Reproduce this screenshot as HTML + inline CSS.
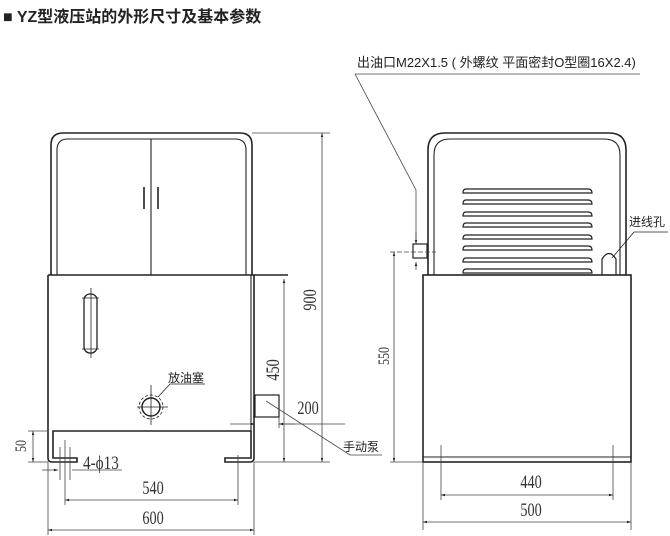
<!DOCTYPE html>
<html><head><meta charset="utf-8"><style>
html,body{margin:0;padding:0;background:#fff;width:670px;height:536px;overflow:hidden}
svg{display:block}
text{font-family:"Liberation Sans","Noto Sans CJK SC",sans-serif;fill:#222}
.n{font-family:"Liberation Serif","DejaVu Serif",serif;font-size:19px;fill:#333}
</style></head><body>
<svg width="670" height="536" viewBox="0 0 670 536" xmlns="http://www.w3.org/2000/svg">
<defs>
<marker id="a" viewBox="0 0 10 10" refX="10" refY="5" markerWidth="7" markerHeight="5" orient="auto-start-reverse"><path d="M0,2 L10,5 L0,8 z" fill="#222"/></marker>
</defs>
<text x="3" y="22" style="font-size:16px;font-weight:bold">■ YZ型液压站的外形尺寸及基本参数</text>

<g fill="none" stroke="#222" stroke-width="1.6">
<path d="M51,275 V145 Q51,133 63,133 H240 Q252,133 252,145 V275"/>
<path d="M57,275 V150 Q57,139 68,139 H235 Q246,139 246,150 V275" stroke-width="1.1"/>
<line x1="151" y1="139" x2="151" y2="275" stroke-width="1.1"/>
<line x1="144" y1="187" x2="144" y2="209"/>
<line x1="158" y1="187" x2="158" y2="209"/>
<path d="M48,275 H288" stroke-width="1.4"/>
<path d="M48,275 V458 Q48,462 52,462 H77 V458 H53 V431 H251 V458 H225 V462 H250 Q254,462 254,458 V275" />
<line x1="251" y1="275" x2="251" y2="431" stroke-width="1.1"/>
<rect x="84" y="294" width="13" height="59" rx="6" stroke-width="1.3"/>
<line x1="82" y1="298" x2="99" y2="298" stroke-width="0.8"/>
<line x1="82" y1="349" x2="99" y2="349" stroke-width="0.8"/>
<line x1="91" y1="288" x2="91" y2="358" stroke-width="0.8"/>
<circle cx="151" cy="407" r="9" stroke-width="1.5"/>
<circle cx="151" cy="407" r="12" stroke-width="0.8" stroke-dasharray="3,2"/>
<line x1="151" y1="385" x2="151" y2="425" stroke-width="0.8"/>
<line x1="137" y1="407" x2="168" y2="407" stroke-width="0.8"/>
<path d="M158,397 L170,384 H205" stroke-width="0.8"/>
<rect x="255" y="395" width="24" height="22" stroke-width="1.2"/>
<g stroke-width="0.8" stroke="#444">
<line x1="252" y1="133" x2="330" y2="133"/>
<line x1="254" y1="462" x2="330" y2="462"/>
<line x1="322" y1="133" x2="322" y2="462" marker-start="url(#a)" marker-end="url(#a)"/>
<line x1="284" y1="279" x2="284" y2="462" marker-start="url(#a)" marker-end="url(#a)"/>
<line x1="279" y1="417" x2="279" y2="428"/>
<line x1="230" y1="424" x2="255" y2="424" marker-end="url(#a)"/>
<line x1="279" y1="424" x2="345" y2="424"/>
<line x1="295" y1="424" x2="279" y2="424" marker-end="url(#a)"/>
<path d="M266,401 L350,455 H382"/>
<line x1="28" y1="431" x2="48" y2="431"/>
<line x1="28" y1="462" x2="48" y2="462"/>
<line x1="33" y1="431" x2="33" y2="462" marker-start="url(#a)" marker-end="url(#a)"/>
<line x1="60" y1="447" x2="60" y2="480"/>
<line x1="70" y1="447" x2="70" y2="480"/>
<line x1="65" y1="440" x2="65" y2="505"/>
<line x1="42" y1="470" x2="58" y2="470" marker-end="url(#a)"/>
<line x1="72" y1="470" x2="122" y2="470"/>
<line x1="238" y1="455" x2="238" y2="505"/>
<line x1="65" y1="500" x2="238" y2="500" marker-start="url(#a)" marker-end="url(#a)"/>
<line x1="48" y1="462" x2="48" y2="535"/>
<line x1="254" y1="462" x2="254" y2="535"/>
<line x1="48" y1="530" x2="254" y2="530" marker-start="url(#a)" marker-end="url(#a)"/>
</g>

<path d="M428,275 V150 Q428,133 445,133 H609 Q626,133 626,150 V275"/>
<path d="M434,275 V155 Q434,139 450,139 H604 Q620,139 620,155 V275" stroke-width="1.1"/>
<rect x="423" y="275" width="208" height="187"/>
<line x1="423" y1="457" x2="631" y2="457" stroke-width="1.1"/>
<g stroke-width="1.2">
<path d="M466,189 H588 Q592,189 592,193 H463 Q463,189 466,189 Z"/>
<path d="M466,200 H588 Q592,200 592,204 H463 Q463,200 466,200 Z"/>
<path d="M466,212 H588 Q592,212 592,216 H463 Q463,212 466,212 Z"/>
<path d="M466,223 H588 Q592,223 592,227 H463 Q463,223 466,223 Z"/>
<path d="M466,235 H588 Q592,235 592,239 H463 Q463,235 466,235 Z"/>
<path d="M466,246 H588 Q592,246 592,250 H463 Q463,246 466,246 Z"/>
<path d="M466,258 H588 Q592,258 592,262 H463 Q463,258 466,258 Z"/>
<path d="M466,269 H588 Q592,269 592,273 H463 Q463,269 466,269 Z"/>
</g>
<path d="M602,275 V259 Q609,248 616,259 V275" stroke-width="1.2"/>
<path d="M612,258 L634,232 H668" stroke-width="0.8"/>
<rect x="413" y="244" width="14" height="14" stroke-width="1.2"/>
<g stroke-width="0.8" stroke="#444">
<path d="M355,74 H640"/>
<path d="M355,74 L416,190 V240"/>
<line x1="416" y1="262" x2="416" y2="270" marker-start="url(#a)"/>
<line x1="416" y1="232" x2="416" y2="244" marker-end="url(#a)"/>
<line x1="390" y1="252" x2="436" y2="252" stroke-dasharray="5,2"/>
<line x1="390" y1="462" x2="423" y2="462"/>
<line x1="394" y1="252" x2="394" y2="462" marker-start="url(#a)" marker-end="url(#a)"/>
<line x1="441" y1="445" x2="441" y2="500"/>
<line x1="613" y1="445" x2="613" y2="500"/>
<line x1="441" y1="495" x2="613" y2="495" marker-start="url(#a)" marker-end="url(#a)"/>
<line x1="423" y1="462" x2="423" y2="530"/>
<line x1="631" y1="462" x2="631" y2="530"/>
<line x1="423" y1="522" x2="631" y2="522" marker-start="url(#a)" marker-end="url(#a)"/>
</g>
</g>

<text x="168" y="382" style="font-size:12px">放油塞</text>
<text x="343" y="451" style="font-size:12px">手动泵</text>
<text x="629" y="226" style="font-size:12px">进线孔</text>
<text x="357" y="67" style="font-size:13px">出油口M22X1.5 ( 外螺纹 平面密封O型圈16X2.4)</text>
<text class="n" transform="translate(83,469) scale(0.8,1)">4-ϕ13</text>
<text class="n" transform="translate(153,494) scale(0.75,1)" text-anchor="middle">540</text>
<text class="n" transform="translate(153,524) scale(0.75,1)" text-anchor="middle">600</text>
<text class="n" transform="translate(531,488) scale(0.75,1)" text-anchor="middle">440</text>
<text class="n" transform="translate(531,516) scale(0.75,1)" text-anchor="middle">500</text>
<text class="n" transform="translate(308,414) scale(0.75,1)" text-anchor="middle">200</text>
<text class="n" transform="translate(316,300) rotate(-90) scale(0.75,1)" text-anchor="middle">900</text>
<text class="n" transform="translate(279,370) rotate(-90) scale(0.75,1)" text-anchor="middle">450</text>
<text class="n" transform="translate(389,356) rotate(-90) scale(0.75,1)" text-anchor="middle" style="font-size:16px">550</text>
<text class="n" transform="translate(26,446) rotate(-90) scale(0.75,1)" text-anchor="middle" style="font-size:16px">50</text>
</svg>
</body></html>
